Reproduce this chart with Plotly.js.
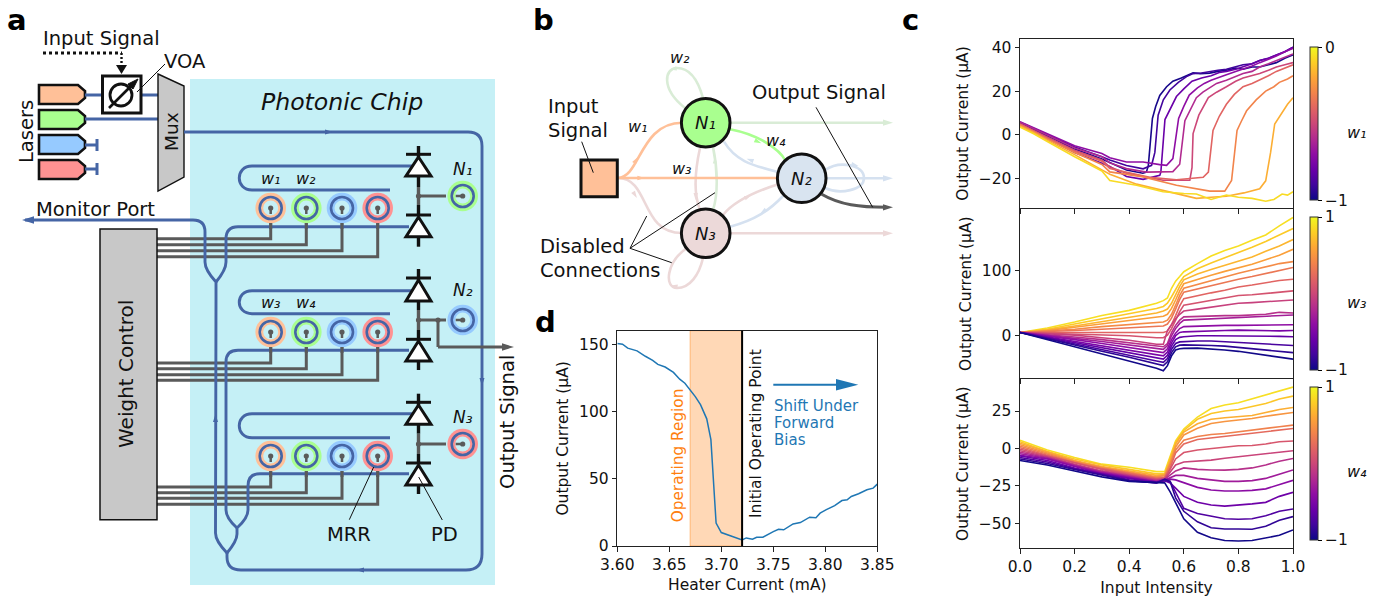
<!DOCTYPE html>
<html><head><meta charset="utf-8">
<script src="https://cdn.plot.ly/plotly-3.0.1.min.js"></script>
<style>html,body{margin:0;padding:0;background:#fff}#plot{width:1382px;height:597px}</style>
</head><body><div id="plot"></div>
<script>
// ---------- panel d ----------
const heaterCurrent=[3.600,3.605,3.610,3.619,3.627,3.634,3.639,3.646,3.654,3.660,3.665,3.670,3.675,3.680,3.686,3.690,3.692,3.695,3.700,3.707,3.712,3.720,3.724,3.730,3.734,3.740,3.750,3.755,3.760,3.769,3.776,3.785,3.791,3.795,3.801,3.809,3.816,3.821,3.825,3.832,3.840,3.846,3.850];
const heaterOutput=[150.5,150,147,145,141,138,135,133,129,124,121,116,111,105,94.5,79,54,17,10,8,6.5,4.5,6,5,6.5,6.5,10.7,12.4,12,16.4,17.4,21.4,21,24.4,27,30,33.8,34.3,36.8,38.8,41.8,43,46];
// ---------- panel c, top (w1) : each curve has its own x and y ----------
const w1Colors=[0.02,0.1,0.2,0.3,0.4,0.5,0.6,0.7,0.82,0.93];
const w1X=[
[0,.05,.1,.2,.3,.39,.45,.463,.47,.478,.485,.497,.512,.537,.56,.591,.61,.634,.66,.695,.725,.756,.79,.817,.85,.878,.91,.939,.97,1],
[0,.05,.1,.2,.3,.329,.39,.451,.482,.494,.506,.525,.549,.58,.61,.634,.665,.695,.725,.756,.79,.817,.85,.878,.91,.939,.97,1],
[0,.05,.1,.2,.3,.329,.39,.451,.512,.516,.531,.55,.573,.60,.63,.665,.70,.73,.756,.79,.817,.85,.878,.91,.939,.97,1],
[0,.05,.1,.2,.3,.329,.39,.451,.512,.537,.56,.581,.60,.62,.65,.675,.70,.73,.756,.79,.817,.85,.878,.91,.939,.97,1],
[0,.05,.1,.2,.3,.329,.39,.463,.56,.585,.604,.625,.646,.67,.69,.72,.756,.79,.817,.85,.878,.91,.939,.97,1],
[0,.05,.1,.2,.3,.329,.39,.524,.622,.63,.634,.655,.69,.72,.756,.79,.817,.85,.878,.91,.939,.97,1],
[0,.05,.1,.2,.3,.329,.475,.573,.671,.69,.707,.73,.756,.785,.817,.85,.878,.91,.939,.97,1],
[0,.05,.1,.2,.3,.329,.451,.573,.695,.75,.775,.795,.81,.83,.865,.90,.93,.95,.98,1],
[0,.05,.1,.2,.3,.329,.427,.524,.646,.70,.756,.82,.878,.90,.918,.933,.963,.98,1],
[0,.05,.1,.2,.3,.329,.427,.524,.60,.646,.70,.756,.80,.85,.90,.93,.96,.98,1]];
const w1Y=[
[5.5,2.5,-.5,-6.5,-11,-16,-17.5,-17,-14,-2,7.5,13,18,22,24.5,26,27,28.3,28,28.2,29,29.5,30.5,30,31,31,32,33,35,36.5],
[5.8,3,0,-5.5,-10,-11.5,-14,-15.5,-13.9,-8,9,16,20.5,24,26.6,28,28.3,29,29.5,30,31,32,32.5,34,35,36.5,38,40],
[5,2,-1.5,-8,-13,-14.4,-19,-20.3,-18.5,-17,7,12,17.5,21,24.5,26,27,28.5,29,30,31,32.5,34,35,36.5,38,40],
[6,3.2,.5,-5,-8.5,-10.4,-12.4,-12.4,-13.6,-13.9,-10.8,7.5,13,18.2,21.5,23.5,25,26.5,27.5,29,30,31.5,33,34.5,36,38,39.5],
[5.8,2.8,0,-6,-10,-12.8,-15.4,-17,-16.8,-13.4,6.5,12,17,19.5,21,23.5,25,26.5,28,29,31,32.5,34,35.5,37],
[5,2,-1,-7,-11.5,-14.7,-17.5,-20.7,-20.7,-15,.6,9,17,19.5,22,24.5,26,27,28,29.5,31,32,33],
[5,1.8,-1.5,-7.5,-12,-15.4,-19.4,-20.5,-19.4,-17,2,8.5,14,18.5,22,23.5,25,27,29,30.5,32],
[4.5,1.5,-2,-8,-13.5,-16.9,-19.2,-23,-25.7,-25.7,-20.8,2,6,11,16,20,22,24,25.5,27],
[4,1,-2.5,-9,-16,-18,-22.5,-25.5,-29,-28.5,-28,-26.5,-24.6,-21,-8,5,11,14,17],
[3.5,.5,-3,-10,-16.5,-20.8,-23,-26,-26.8,-27,-29.5,-27.5,-28.5,-29,-30.3,-29.5,-27,-27.5,-26]];
// ---------- panel c, middle (w3) ----------
const w3X=[0,.1,.2,.3,.4,.5,.525,.54,.555,.57,.585,.6,.65,.7,.75,.8,.85,.9,.95,1];
const w3Colors=[.94,.89,.84,.78,.72,.66,.6,.54,.48,.42,.36,.3,.24,.18,.12,.06,.01];
const w3Y=[
[5,12,21,31,39,50,54,58,73,84,91,98.5,111,122.6,131,138,147,155,169,182],
[5,10,18,26,33,42,45,50,60,72,82,91,103,112,120,127,136,145,155,165],
[5,9,15,22,28,35,38,41,50,63,76,86,95,102,108,114,121,130,138,148],
[5,8,13,18,23,28,30,33,42,55,69,80,87,93,99,104,110,117,124,133],
[5,7,10,14,17,20,21,24,33,47,62,73,79,85,91,96,101,106,111,114],
[5,6,8,10,12,14,15,18,27,41,56,67,72,78,83,87,91,96,101,105],
[5,5,6,6,6,5,5,7,17,31,46,57,62,66,70,75,78,82,85,87],
[5,4,3,2,0,-3,-3,1,11,24,37,47,51,55,59,62,63,65,68,69],
[5,3,1,-3,-7,-13,-13,8,18,26,33,38,41,44,47,50,51,52,54,55],
[5,2,-2,-6,-11,-16,-17,-12,5,16,24,29,30,30,31,31,32,33,36,35],
[5,1,-4,-9,-14,-19,-21,-15,0,11,19,24,25,26,27,28,28,30,31,32],
[5,0,-6,-12,-18,-24,-26,-20,-6,4,11,14,15,16,16,16,16,16,17,17],
[5,-2,-8,-15,-22,-29,-31,-25,-11,0,5,6,7,8,8,8.7,8,8,7.5,8],
[5,-3,-11,-18,-26,-34,-36,-30,-16,-6,-2.5,-1.5,0,0,0,0,-.5,-1,-1,-1.5],
[5,-4,-13,-21,-30,-39,-41,-35,-21,-12,-9.5,-9,-8,-8,-9,-10,-11,-13,-14,-15],
[5,-5,-14,-24,-33,-43,-46,-40,-26,-17,-14.5,-14,-14,-15,-16,-18,-20,-22,-24,-26],
[5,-6,-16,-27,-39,-50,-54,-46,-31,-22,-20,-19.5,-19,-20,-22,-24,-27,-30,-33,-36]];
// ---------- panel c, bottom (w4) ----------
const w4X=[0,.1,.2,.3,.4,.5,.53,.55,.57,.6,.65,.7,.75,.8,.85,.9,.95,1];
const w4Colors=[.94,.88,.82,.75,.69,.62,.55,.49,.42,.35,.29,.21,.14,.07,.01];
const w4Y=[
[5.5,-1,-6,-10.5,-12.5,-15.5,-15.5,-5,5,13,21,26.7,29,30.5,33,36,38,41],
[4.5,-2,-7,-11,-14,-17,-17,-7,4,12,19.5,23.4,25,26,28,30,33,35],
[3.5,-2.5,-8,-12,-15,-18,-17.5,-8,3,11,16.5,19.5,20.5,21,22,24,26,27.4],
[2.5,-3,-8.5,-12.5,-15.5,-19,-18,-10,1,9,13.5,16.7,18,19,20,21.5,23,24],
[1.5,-4,-9,-13,-16.5,-19.5,-19,-11,-1,5.5,8,9.3,10,11,12,13,14.5,15.6],
[.5,-4.5,-9.5,-13.5,-17,-20,-19.5,-13,-3,3,6,7,8,9,10,11,12,13.3],
[-.5,-5,-10,-14,-17.5,-20.5,-20,-14,-7,-2.7,-1,0,1,1.8,2,3,4.5,5],
[-1.5,-5.5,-10.5,-15,-18,-21,-20.5,-16,-11,-9,-8.5,-7.8,-6.5,-5.5,-5,-4,-2.5,-1.5],
[-2.5,-6,-11,-15.5,-18.5,-21.5,-20.5,-18,-15,-13,-14,-14.4,-14.5,-14,-13,-11,-8.5,-6.7],
[-3.5,-6.5,-11.5,-16,-19,-22,-21,-19.5,-18,-18,-20,-21,-22,-22,-21.5,-20,-17,-14.4],
[-4.5,-7,-12,-16.5,-19.5,-22.5,-21,-20.5,-21,-23,-26,-27.8,-28.4,-28.4,-28,-27,-24,-21.3],
[-5,-8,-13,-17,-20,-22.5,-21.5,-23,-26.5,-32,-36,-37.8,-38.5,-38,-37,-36,-32,-29.3],
[-6,-9,-13.5,-17.5,-21,-23,-21.5,-22,-29,-40,-43.5,-45.5,-47,-47.3,-47,-45,-42,-40.4],
[-7,-10,-14,-18,-21.5,-23,-20.5,-22,-33,-42,-49,-53,-53.8,-53.8,-54,-52,-48,-45.5],
[-8,-11,-15,-19,-22,-23,-23,-29,-36,-47,-56,-59.6,-61.5,-61.8,-61.5,-60,-58,-54.4]];

const FONT='"DejaVu Sans"';
const W=1382,H=597;
const plasmaStops=['#0d0887','#41049d','#6a00a8','#8f0da4','#b12a90','#cc4778','#e16462','#f2844b','#fca636','#fcce25','#f0f921'];
const plasmaScale=plasmaStops.map((c,i)=>[i/10,c]);
function plasma(t){
  const p=Math.min(Math.max(t,0),1)*10,i=Math.min(Math.floor(p),9),f=p-i;
  const h=s=>[1,3,5].map(k=>parseInt(s.substr(k,2),16));
  const a=h(plasmaStops[i]),b=h(plasmaStops[i+1]);
  return 'rgb('+a.map((v,k)=>Math.round(v+(b[k]-v)*f)).join(',')+')';
}
const traces=[];
function addCurve(ax,ay,x,y,t){traces.push({x,y,xaxis:ax,yaxis:ay,mode:'lines',line:{color:plasma(t),width:1.6},hoverinfo:'skip',showlegend:false});}
w1Y.forEach((y,i)=>addCurve('x','y',w1X[i],y,w1Colors[i]));
w3Y.forEach((y,i)=>addCurve('x2','y2',w3X,y,w3Colors[i]));
w4Y.forEach((y,i)=>addCurve('x3','y3',w4X,y,w4Colors[i]));
traces.push({x:heaterCurrent,y:heaterOutput,xaxis:'x4',yaxis:'y4',mode:'lines',line:{color:'#1f77b4',width:1.5},hoverinfo:'skip',showlegend:false});
function colorbar(ax,ay,yy,vals,lo,hi,top,bot){
  traces.push({x:[yy],y:[vals],xaxis:ax,yaxis:ay,mode:'markers',hoverinfo:'skip',showlegend:false,
    marker:{size:1,opacity:0,color:[lo],cmin:lo,cmax:hi,colorscale:plasmaScale,showscale:true,
    colorbar:{x:1310/W,xanchor:'left',y:1-(top+bot)/2/H,yanchor:'middle',len:bot-top,lenmode:'pixels',thickness:8,thicknessmode:'pixels',xpad:0,ypad:0,
      outlinewidth:1,outlinecolor:'#333',tickmode:'array',tickvals:[lo,hi],ticktext:[lo<0?'−1':String(lo),String(hi)],ticks:'outside',ticklen:4,tickwidth:1,tickcolor:'#000',tickfont:{family:FONT,size:15.5,color:'#111'}}}});
}
colorbar('x','y',.5,0,-1,0,47.3,200.7);
colorbar('x2','y2',.5,0,-1,1,217,370);
colorbar('x3','y3',.5,0,-1,1,387,540);
// overlay trace so the schematic pixel-scale axes exist
traces.push({x:[0,W],y:[0,H],xaxis:'x5',yaxis:'y5',mode:'markers',marker:{size:1,opacity:0},hoverinfo:'skip',showlegend:false});

const dx=(a,b)=>[a/W,b/W], dy=(a,b)=>[1-b/H,1-a/H];
const baseAxis={showgrid:false,zeroline:false,showline:true,mirror:true,linecolor:'#222',linewidth:1,ticks:'outside',ticklen:4.5,tickwidth:1,tickcolor:'#222',tickfont:{family:FONT,size:15.5,color:'#111'}};
function ttl(t,s){return {text:t,standoff:s,font:{family:FONT,size:15.5,color:'#111'}};}
const ann=[],S=[];
const BL='#4565a5',GR='#5a5a5a',CHIP='#c5f0f6';
const cOr='#ffc098',cGn='#a9ff8f',cBl='#96caff',cRd='#ff9292';
function sh(o){S.push(Object.assign({xref:'x5',yref:'y5'},o));}
function path(d,color,w,fill){sh({type:'path',path:d,line:{color:color||'rgba(0,0,0,0)',width:color?w:0},fillcolor:fill||'rgba(0,0,0,0)'});}
function circ(cx,cy,r,fill,stroke,w){sh({type:'circle',x0:cx-r,x1:cx+r,y0:cy-r,y1:cy+r,fillcolor:fill||'rgba(0,0,0,0)',line:{color:stroke||'rgba(0,0,0,0)',width:stroke?w:0}});}
function rect(x0,y0,x1,y1,fill,stroke,w){sh({type:'rect',x0,x1,y0,y1,fillcolor:fill,line:{color:stroke||'rgba(0,0,0,0)',width:stroke?w:0}});}
function ln(x0,y0,x1,y1,color,w,dash){sh({type:'line',x0,y0,x1,y1,line:{color,width:w,dash:dash||'solid'}});}
function tri(x,y,deg,s,color){const r=deg*Math.PI/180,c=Math.cos(r),n=Math.sin(r);
  const pt=(a,b)=>(x+a*c-b*n).toFixed(1)+','+(y+a*n+b*c).toFixed(1);
  path('M'+pt(s,0)+' L'+pt(-s,s*.62)+' L'+pt(-s,-s*.62)+' Z',null,0,color);}
function txt(x,y,t,size,opt){const o=opt||{};ann.push(Object.assign({xref:'x5',yref:'y5',x,y,text:t,showarrow:false,xanchor:'center',yanchor:'middle',font:Object.assign({family:FONT,size,color:'#111'},o.f||{})},o.a||{}));}
const ROT={a:{textangle:-90}},ITAL={f:{style:'italic'}},BOLD={f:{weight:'bold',color:'#000'}};
const sub={1:'₁',2:'₂',3:'₃',4:'₄'};
function it(a,b){return a+sub[b];}

// ---- panel a ----
rect(190,79,495,585,CHIP);
[[85,cOr],[110,cGn],[135,cBl],[160,cRd]].forEach(([y,c])=>{
  path(`M39,${y} L78,${y} L85,${y+6} L85,${y+13} L78,${y+19} L39,${y+19} Z`,'#111',2.6,c);});
ln(85,95,102,95,BL,3);ln(141,95,158,95,BL,3);ln(85,119,158,119,BL,3);
ln(85,145,97,145,BL,3);ln(97,139,97,151,BL,3);ln(85,169,97,169,BL,3);ln(97,163,97,175,BL,3);
rect(102.5,76,141,113,'#fff','#111',3);
circ(121,95,11,null,'#111',2.8);
ln(109,108,133,84,'#111',2.6);
path('M138,79 L128,84 L133,89 Z','#111',1,'#111');
ln(137,92,165,64,'#111',1);
ln(43,53,122,53,'#111',3,'dot');
ln(121.5,53,121.5,66,'#111',2.4,'2px,2px');
path('M116,65 L127,65 L121.5,74 Z',null,0,'#111');
path('M158,74 L184,86 L184,177 L158,191 Z','#111',1.4,'#c8c8c8');
const wireRows=[[238.7,244.7,250.7,256.7,208],[363,368.7,374.7,380.3,332],[487,492.7,498.3,504.3,456]];
const mx=[270.7,306.3,342,377.7];
wireRows.forEach(r=>{mx.forEach((x,i)=>{path(`M157,${r[i]} L${x},${r[i]} L${x},${r[4]+10}`,GR,3);});});
const wg=d=>path(d,BL,2.9);
wg('M184,132 L468,132 Q482,132 482,146 L482,554 Q482,570 466,570 L241,570 Q227,570 227,557 L227,552');
wg('M25,220 L193,220 Q205,220 205,232 L205,262 Q205,270 216,282 L216,300 L215.5,533 Q215.5,541 227,553');
wg('M409,226.7 L238,226.7 Q226,226.7 226,239 L226,262 Q226,270 216,282');
wg('M409,350.3 L238,350.3 Q226,350.3 226,362 L226,510 Q226,518 237,528');
wg('M409,473.7 L260,473.7 Q248,473.7 248,486 L248,510 Q248,518 237,528 L237,534 Q237,541 227,553');
[[132,166,190],[0,290.7,313.7],[0,413.7,437.7]].forEach(r=>{
  const t=r[1],b=r[2];
  wg(`M412,${t} L252,${t} C235,${t} 235,${b} 252,${b} L390,${b}`);
});
tri(329,132,0,4,BL);tri(482,382,90,4,BL);tri(360,570,180,4,BL);tri(215.5,418,-90,4,BL);tri(28,220,180,6,BL);
const ringColors=[cOr,cGn,cBl,cRd];
function ring(x,y,c){circ(x,y,15.3,c);circ(x,y,7.5,CHIP);circ(x,y,11,null,BL,2.6);}
[208,332,456].forEach(y=>{mx.forEach((x,i)=>{ring(x,y,ringColors[i]);ln(x,y,x,y+6,GR,2.5);circ(x,y,2.6,GR);ln(x,y+15,x,y+21,GR,3);});});
function diode(xc,yb,ya,yc){
  path(`M${xc},${ya} L${xc+12.5},${yc} L${xc-12.5},${yc} Z`,'#111',3,'#fff');
  ln(xc-12.5,yb,xc+12.5,yb,'#111',3);
}
const dxc=418.5;
[[146,154.3,157,176,187, 196,205,215,217,236.7,246.7],[269,278,280,301,310, 320,330,339.3,341,361,370],[393.7,402.3,405,424.3,433.7, 444,454,463,465,485,494]].forEach(d=>{
  ln(dxc,d[0],dxc,d[2],'#111',3.4);
  ln(dxc,d[3],dxc,d[4],'#111',3.4);
  ln(dxc,d[4],dxc,d[6],GR,3.4);
  ln(dxc,d[6],dxc,d[7],'#111',3.4);
  ln(dxc,d[9],dxc,d[10],'#111',3.4);
  diode(dxc,d[1],d[2],d[3]);
  diode(dxc,d[7],d[8],d[9]);
  ln(dxc,d[5],446,d[5],GR,3);
  circ(dxc,d[5],2.6,GR);
});
ln(438,320,438,347,GR,3);ln(438,347,506,347,GR,3);circ(438,320,2.6,GR);tri(508,347,0,6,GR);
[[196,cGn],[320,cBl],[444,cRd]].forEach(([y,c])=>{const x=462.7;ring(x,y,c);ln(x-7,y,x,y,GR,2.5);circ(x,y,2.6,GR);});
ln(373.7,467,349.3,519.7,'#111',1);
ln(418.7,477,442.3,520,'#111',1);
rect(100,229,157,519.7,'#c8c8c8','#111',1.5);
txt(17,20,'a',29,BOLD);txt(543,20,'b',29,BOLD);txt(910,20,'c',29,BOLD);txt(545,322,'d',29,BOLD);
txt(101.5,38,'Input Signal',19.5);txt(185,61,'VOA',19.5);
txt(26,132,'Lasers',19.5,ROT);txt(171,132,'Mux',18.5,ROT);
txt(342,102,'Photonic Chip',23.6,ITAL);txt(95,209,'Monitor Port',19.5);
txt(126,374,'Weight Control',20,ROT);txt(507,422,'Output Signal',19.6,ROT);
txt(349,534,'MRR',19.5);txt(444,534,'PD',19.5);
const wLab=16,nLab=17;
txt(271,178,it('w',1),wLab,ITAL);txt(306,178,it('w',2),wLab,ITAL);txt(271,302,it('w',3),wLab,ITAL);txt(306,302,it('w',4),wLab,ITAL);
txt(463,169,it('N',1),nLab,ITAL);txt(463,290,it('N',2),nLab,ITAL);txt(463,417,it('N',3),nLab,ITAL);

// ---- panel b ----
const lG='#d9ecd6',lB='#d5e1f0',lP='#ecd8d8',E=2.6;
path('M687,248 C666,262 664,288 677,288 C690,288 699,275 703,258',lP,E);
path('M685,108 C660,88 665,68 677,68 C690,68 698,80 703,98',lG,E);
path('M700,148 C694,175 694,195 700,210',lP,E);
path('M713,147 C718,170 718,195 713,210',lG,E);
path('M618,178 C650,178 640,233 682,233',lP,E);
ln(730,122.7,886,122.7,lG,E);ln(826,178.3,886,178.3,lB,E);ln(730,233.3,886,233.3,lP,E);
path('M777,171.7 C750,165 735,160 724,141.7',lB,E);
path('M730,226.7 C755,220 770,210 783,196',lB,E);
path('M723,215 C735,200 760,190 779,184',lP,E);
path('M825,170 C840,160 864,165 864,178 C864,190 840,195 825,188',lB,E);
path('M730,129.3 C760,135 780,150 785,160',cGn,E);
path('M618,178 C640,178 640,122.7 682,122.7',cOr,E);
ln(618,178,778,178,cOr,E);
path('M821.7,194.3 C840,205 860,207.3 886,207.3',GR,3);
[[636,160,-58,cOr],[641,178,0,cOr],[635,195,58,lP],[673,69,170,lG],[674,286,190,lP],[715,160,-90,lG],[695.7,196.7,90,lP],[758,141.7,25,cGn],[750,160,200,lB],[748,196.7,-25,lP],[763,211.7,145,lB],[855,165,15,lB]].forEach(a=>tri(a[0],a[1],a[2],3.6,a[3]));
tri(888,122.7,0,5,lG);tri(888,178.3,0,5,lB);tri(888,233.3,0,5,lP);tri(888,207.3,0,5,GR);
rect(581,160,617.3,196.7,cOr,'#111',3);
circ(705.7,122.7,24.3,cGn,'#111',3);circ(801.7,178.3,24.3,'#d9e4f0','#111',3);circ(705.7,233.3,24.3,'#ecd9d9','#111',3);
ln(581.7,141.7,593.3,172.7,'#111',1);ln(816,107.3,872.7,207.3,'#111',1);
ln(630,248.3,646.7,216,'#111',1);ln(630,248.3,715,192.7,'#111',1);ln(630,248.3,671.7,262.7,'#111',1);
const LF={a:{xanchor:'left'}};
txt(546,106,'Input',19.5,LF);txt(546,130,'Signal',19.5,LF);txt(818.7,92,'Output Signal',19.5);txt(538,246,'Disabled',19.5,LF);txt(538,270,'Connections',19.5,LF);
txt(705.7,122.7,it('N',1),18,ITAL);txt(801.7,178.3,it('N',2),18,ITAL);txt(705.7,233.3,it('N',3),18,ITAL);
txt(638,126,it('w',1),wLab,ITAL);txt(682,168,it('w',3),wLab,ITAL);txt(680,57,it('w',2),wLab,ITAL);txt(776,140,it('w',4),wLab,ITAL);

// ---- panel d decorations ----
S.push({type:'rect',xref:'x4',yref:'y4 domain',x0:3.67,x1:3.72,y0:0,y1:1,fillcolor:'rgba(255,127,14,.3)',line:{color:'rgba(255,127,14,.45)',width:1},layer:'below'});
S.push({type:'line',xref:'x4',yref:'y4 domain',x0:3.72,x1:3.72,y0:0,y1:1,line:{color:'#000',width:2}});
txt(678.3,455,'Operating Region',15.3,{a:{textangle:-90},f:{color:'#ff7f0e'}});
txt(756,434,'Initial Operating Point',15.5,ROT);
ln(773.3,384.7,840,384.7,'#1f77b4',2);path('M836,379 L858.3,384.7 L836,390.4 Z',null,0,'#1f77b4');
const BLT={a:{xanchor:'left'},f:{color:'#1f77b4'}};
txt(772,406,'Shift Under',15,BLT);txt(772,423,'Forward',15,BLT);txt(772,440,'Bias',15,BLT);
txt(1357,132,it('w',1),16,ITAL);txt(1357,302,it('w',3),16,ITAL);txt(1357,471,it('w',4),16,ITAL);

const layout={width:W,height:H,margin:{l:0,r:0,t:0,b:0},paper_bgcolor:'#fff',plot_bgcolor:'rgba(0,0,0,0)',showlegend:false,
  xaxis:Object.assign({},baseAxis,{domain:dx(1020,1293),range:[0,1],anchor:'y',tickvals:[0,.2,.4,.6,.8,1],showticklabels:false}),
  yaxis:Object.assign({},baseAxis,{domain:dy(39,208),range:[-33.4,43.8],anchor:'x',tickvals:[-20,0,20,40],title:ttl('Output Current (µA)',6)}),
  xaxis2:Object.assign({},baseAxis,{domain:dx(1020,1293),range:[0,1],anchor:'y2',tickvals:[0,.2,.4,.6,.8,1],showticklabels:false}),
  yaxis2:Object.assign({},baseAxis,{domain:dy(209,378.3),range:[-65.5,195],anchor:'x2',tickvals:[0,100],title:ttl('Output Current (µA)',6)}),
  xaxis3:Object.assign({},baseAxis,{domain:dx(1020,1293),range:[0,1],anchor:'y3',tickvals:[0,.2,.4,.6,.8,1],ticktext:['0.0','0.2','0.4','0.6','0.8','1.0'],tickmode:'array',title:ttl('Input Intensity',6)}),
  yaxis3:Object.assign({},baseAxis,{domain:dy(379,548.3),range:[-66.7,46.4],anchor:'x3',tickvals:[-50,-25,0,25],title:ttl('Output Current (µA)',6)}),
  xaxis4:Object.assign({},baseAxis,{domain:dx(617.3,877.3),range:[3.6,3.85],anchor:'y4',tickmode:'array',tickvals:[3.6,3.65,3.7,3.75,3.8,3.85],ticktext:['3.60','3.65','3.70','3.75','3.80','3.85'],title:ttl('Heater Current (mA)',6)}),
  yaxis4:Object.assign({},baseAxis,{domain:dy(330.7,546),range:[0,160],anchor:'x4',tickvals:[0,50,100,150],title:ttl('Output Current (µA)',6)}),
  xaxis5:{domain:[0,1],range:[0,W],visible:false,anchor:'y5',fixedrange:true},
  yaxis5:{domain:[0,1],range:[H,0],visible:false,anchor:'x5',fixedrange:true},
  shapes:S,annotations:ann};
Plotly.newPlot('plot',traces,layout,{staticPlot:true,displayModeBar:false});
</script></body></html>
